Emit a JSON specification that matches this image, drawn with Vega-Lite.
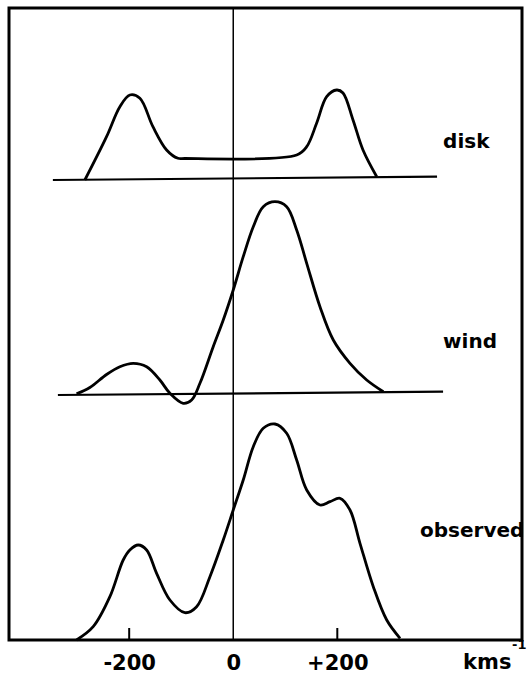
{
  "$schema": "https://vega.github.io/schema/vega-lite/v6.json",
  "width": 513,
  "height": 632,
  "autosize": "none",
  "padding": {"left": 9, "top": 8, "right": 5, "bottom": 44},
  "background": "white",
  "config": {
    "view": {"stroke": "black", "strokeWidth": 3}
  },
  "data": {"values": [
      {"profile": "disk", "v": -285.2, "flux": 460},
      {"profile": "disk", "v": -243.5, "flux": 503.3},
      {"profile": "disk", "v": -217.9, "flux": 533.3},
      {"profile": "disk", "v": -198.7, "flux": 545},
      {"profile": "disk", "v": -179.4, "flux": 541.7},
      {"profile": "disk", "v": -154.4, "flux": 513.3},
      {"profile": "disk", "v": -128.1, "flux": 490},
      {"profile": "disk", "v": -106.3, "flux": 481.7},
      {"profile": "disk", "v": -92.9, "flux": 481.5},
      {"profile": "disk", "v": 121.9, "flux": 485},
      {"profile": "disk", "v": 141.2, "flux": 493.3},
      {"profile": "disk", "v": 160.4, "flux": 517},
      {"profile": "disk", "v": 179.6, "flux": 543.3},
      {"profile": "disk", "v": 198.8, "flux": 550},
      {"profile": "disk", "v": 211, "flux": 547},
      {"profile": "disk", "v": 230.2, "flux": 520},
      {"profile": "disk", "v": 249.4, "flux": 490},
      {"profile": "disk", "v": 275.8, "flux": 463.3},
      {"profile": "wind", "v": -301.2, "flux": 246.2},
      {"profile": "wind", "v": -275.6, "flux": 252.5},
      {"profile": "wind", "v": -243.5, "flux": 265.5},
      {"profile": "wind", "v": -217.9, "flux": 273.3},
      {"profile": "wind", "v": -192.3, "flux": 276.7},
      {"profile": "wind", "v": -166.5, "flux": 273.3},
      {"profile": "wind", "v": -141, "flux": 260},
      {"profile": "wind", "v": -121.7, "flux": 246.7},
      {"profile": "wind", "v": -96.2, "flux": 236.7},
      {"profile": "wind", "v": -80, "flux": 240},
      {"profile": "wind", "v": -64, "flux": 256.7},
      {"profile": "wind", "v": -38.5, "flux": 293.3},
      {"profile": "wind", "v": -19.2, "flux": 320},
      {"profile": "wind", "v": 0, "flux": 350},
      {"profile": "wind", "v": 19.2, "flux": 383.3},
      {"profile": "wind", "v": 38.5, "flux": 413.3},
      {"profile": "wind", "v": 57.7, "flux": 433.3},
      {"profile": "wind", "v": 80.2, "flux": 438.3},
      {"profile": "wind", "v": 102.7, "flux": 433.3},
      {"profile": "wind", "v": 121.9, "flux": 410},
      {"profile": "wind", "v": 141.2, "flux": 376.7},
      {"profile": "wind", "v": 166.7, "flux": 333.3},
      {"profile": "wind", "v": 192.3, "flux": 300},
      {"profile": "wind", "v": 224.4, "flux": 276.7},
      {"profile": "wind", "v": 256.5, "flux": 260},
      {"profile": "wind", "v": 288.5, "flux": 248.3},
      {"profile": "observed", "v": -301.2, "flux": 0},
      {"profile": "observed", "v": -269.2, "flux": 13.3},
      {"profile": "observed", "v": -237.1, "flux": 43.3},
      {"profile": "observed", "v": -211.5, "flux": 80},
      {"profile": "observed", "v": -198.7, "flux": 90},
      {"profile": "observed", "v": -182.7, "flux": 95},
      {"profile": "observed", "v": -166.5, "flux": 90},
      {"profile": "observed", "v": -147.3, "flux": 66.7},
      {"profile": "observed", "v": -121.7, "flux": 40},
      {"profile": "observed", "v": -92.9, "flux": 27.3},
      {"profile": "observed", "v": -70.4, "flux": 33.3},
      {"profile": "observed", "v": -44.8, "flux": 63.3},
      {"profile": "observed", "v": -19.2, "flux": 100},
      {"profile": "observed", "v": 0, "flux": 130},
      {"profile": "observed", "v": 19.2, "flux": 160},
      {"profile": "observed", "v": 38.5, "flux": 193.3},
      {"profile": "observed", "v": 57.7, "flux": 211.7},
      {"profile": "observed", "v": 80.2, "flux": 216},
      {"profile": "observed", "v": 102.7, "flux": 206.7},
      {"profile": "observed", "v": 121.9, "flux": 180},
      {"profile": "observed", "v": 141.2, "flux": 150},
      {"profile": "observed", "v": 166.7, "flux": 135},
      {"profile": "observed", "v": 186, "flux": 138.3},
      {"profile": "observed", "v": 205.2, "flux": 141.7},
      {"profile": "observed", "v": 224.4, "flux": 130},
      {"profile": "observed", "v": 243.6, "flux": 96.7},
      {"profile": "observed", "v": 269.2, "flux": 53.3},
      {"profile": "observed", "v": 295, "flux": 20},
      {"profile": "observed", "v": 320.6, "flux": 1.7}
  ]},
  "layer": [
    {
      "mark": {"type": "line", "color": "black", "strokeWidth": 2.8, "interpolate": "catmull-rom"},
      "encoding": {
        "x": {
          "field": "v", "type": "quantitative",
          "scale": {"domain": [-431, 555], "nice": false, "zero": false},
          "axis": {
            "values": [-200, 0, 200],
            "title": null,
            "domain": false,
            "grid": false,
            "ticks": false,
            "labelPadding": 12,
            "labelFont": "DejaVu Sans",
            "labelFontWeight": "bold",
            "labelFontSize": 21,
            "labelColor": "black",
            "labelExpr": "datum.value > 0 ? '+' + datum.value : '' + datum.value"
          }
        },
        "y": {
          "field": "flux", "type": "quantitative",
          "scale": {"domain": [0, 632], "nice": false, "zero": false},
          "axis": null
        },
        "detail": {"field": "profile", "type": "nominal"}
      }
    },
    {
      "data": {"values": [{"v": 0}]},
      "mark": {"type": "rule", "color": "black", "strokeWidth": 1.5},
      "encoding": {
        "x": {"field": "v", "type": "quantitative"}
      }
    },
    {
      "data": {"values": [{"v": -200, "f1": 0, "f2": 12}, {"v": 200, "f1": 0, "f2": 12}]},
      "mark": {"type": "rule", "color": "black", "strokeWidth": 2},
      "encoding": {
        "x": {"field": "v", "type": "quantitative"},
        "y": {"field": "f1", "type": "quantitative"},
        "y2": {"field": "f2"}
      }
    },
    {
      "data": {"values": [
        {"profile": "disk", "v1": -346.7, "f1": 460, "v2": 391.7, "f2": 463.3},
        {"profile": "wind", "v1": -337, "f1": 245, "v2": 403.3, "f2": 248.3}
      ]},
      "mark": {"type": "rule", "color": "black", "strokeWidth": 2.2},
      "encoding": {
        "x": {"field": "v1", "type": "quantitative"},
        "x2": {"field": "v2"},
        "y": {"field": "f1", "type": "quantitative"},
        "y2": {"field": "f2"}
      }
    },
    {
      "data": {"values": [
        {"text": "disk", "v": 403.3, "flux": 492},
        {"text": "wind", "v": 403.3, "flux": 292},
        {"text": "observed", "v": 359, "flux": 103}
      ]},
      "mark": {"type": "text", "align": "left", "baseline": "alphabetic", "font": "DejaVu Sans", "fontWeight": "bold", "fontSize": 20, "color": "black"},
      "encoding": {
        "x": {"field": "v", "type": "quantitative"},
        "y": {"field": "flux", "type": "quantitative"},
        "text": {"field": "text", "type": "nominal"}
      }
    },
    {
      "data": {"values": [
        {"text": "kms", "v": 441.7, "flux": -29, "size": "main"},
        {"text": "-1", "v": 536, "flux": -9, "size": "sup"}
      ]},
      "mark": {"type": "text", "align": "left", "baseline": "alphabetic", "font": "DejaVu Sans", "fontWeight": "bold", "color": "black"},
      "encoding": {
        "x": {"field": "v", "type": "quantitative"},
        "y": {"field": "flux", "type": "quantitative"},
        "text": {"field": "text", "type": "nominal"},
        "size": {"field": "size", "type": "nominal", "scale": {"domain": ["main", "sup"], "range": [21, 13]}, "legend": null}
      }
    }
  ]
}
